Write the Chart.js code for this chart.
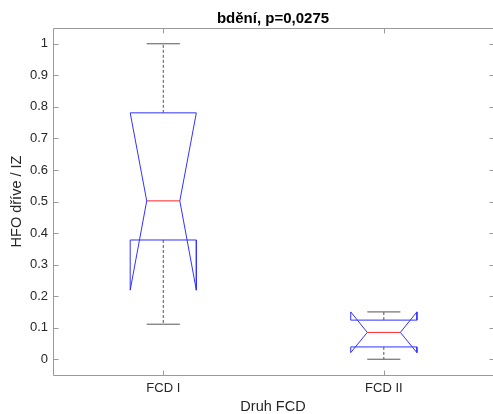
<!DOCTYPE html>
<html>
<head>
<meta charset="utf-8">
<script src="https://cdn.jsdelivr.net/npm/chart.js@4/dist/chart.umd.min.js"></script>
<style>
  html, body { margin: 0; padding: 0; background: #fff; }
  #wrap { width: 493px; height: 414px; }
</style>
</head>
<body>
<div id="wrap"><canvas id="chart"></canvas></div>
<script>
const categories = ['FCD I', 'FCD II'];
const q1 = [0.378, 0.039];
const median = [0.502, 0.085];
const q3 = [0.781, 0.124];
const notchLo = [0.219, 0.021];
const notchHi = [0.781, 0.150];
const whiskerLo = [0.111, 0.0];
const whiskerHi = [1.0, 0.150];
const yTicks = [0, 0.1, 0.2, 0.3, 0.4, 0.5, 0.6, 0.7, 0.8, 0.9, 1];

const titleText = 'bdění, p=0,0275';
const axisColor = '#9a9a9a';
const textColor = '#262626';
const boxHalf = 0.15;
const notchHalf = 0.075;
const capHalf = 0.075;
const xFrameMax = 2.5; // axis frame edge (window is cut just before it)

function line(points, color, dash) {
  return {
    data: points,
    showLine: true,
    borderColor: color,
    borderWidth: 1,
    borderDash: dash || [],
    pointRadius: 0,
    fill: false,
    tension: 0
  };
}

const datasets = [];
categories.forEach(function (c, i) {
  const x = i + 1;
  const l = x - boxHalf, r = x + boxHalf;
  const nl = x - notchHalf, nr = x + notchHalf;
  // whiskers (dashed) first so box draws over them
  datasets.push(line([{ x: x, y: q3[i] }, { x: x, y: whiskerHi[i] }], '#555', [3, 2]));
  datasets.push(line([{ x: x, y: q1[i] }, { x: x, y: whiskerLo[i] }], '#555', [3, 2]));
  datasets.push(line([{ x: x - capHalf, y: whiskerHi[i] }, { x: x + capHalf, y: whiskerHi[i] }], '#555'));
  datasets.push(line([{ x: x - capHalf, y: whiskerLo[i] }, { x: x + capHalf, y: whiskerLo[i] }], '#555'));
  // notched box outline
  datasets.push(line([
    { x: l, y: q1[i] }, { x: r, y: q1[i] }, { x: r, y: notchLo[i] },
    { x: nr, y: median[i] }, { x: r, y: notchHi[i] }, { x: r, y: q3[i] },
    { x: l, y: q3[i] }, { x: l, y: notchHi[i] }, { x: nl, y: median[i] },
    { x: l, y: notchLo[i] }, { x: l, y: q1[i] }
  ], 'rgb(50,50,255)'));
  // median
  datasets.push(line([{ x: nl, y: median[i] }, { x: nr, y: median[i] }], 'rgb(255,40,40)'));
});

// MATLAB-like frame with inward ticks + title
const framePlugin = {
  id: 'frame',
  afterDraw: function (chart) {
    const ctx = chart.ctx;
    const a = chart.chartArea;
    const xs = chart.scales.x, ys = chart.scales.y;
    const L = Math.round(a.left) + 0.5;
    const R = Math.round(xs.getPixelForValue(xFrameMax)) + 0.5;
    const T = Math.round(a.top) + 0.5, B = Math.round(a.bottom) + 0.5;
    ctx.save();
    ctx.strokeStyle = axisColor;
    ctx.lineWidth = 1;
    ctx.beginPath();
    ctx.moveTo(L, T); ctx.lineTo(R, T); ctx.lineTo(R, B); ctx.lineTo(L, B); ctx.closePath();
    const tl = 5;
    yTicks.forEach(function (v) {
      const y = Math.round(ys.getPixelForValue(v)) + 0.5;
      ctx.moveTo(L, y); ctx.lineTo(L + tl, y);
      ctx.moveTo(R, y); ctx.lineTo(R - tl, y);
    });
    categories.forEach(function (c, i) {
      const x = Math.round(xs.getPixelForValue(i + 1)) + 0.5;
      ctx.moveTo(x, B); ctx.lineTo(x, B - tl);
      ctx.moveTo(x, T); ctx.lineTo(x, T + tl);
    });
    ctx.stroke();
    ctx.fillStyle = '#000';
    ctx.font = 'bold 15px "Liberation Sans", Arial, sans-serif';
    ctx.textAlign = 'center';
    ctx.textBaseline = 'alphabetic';
    ctx.fillText(titleText, (a.left + a.right) / 2, 23);
    ctx.restore();
  }
};

new Chart(document.getElementById('chart'), {
  type: 'scatter',
  data: { datasets: datasets },
  options: {
    responsive: true,
    maintainAspectRatio: false,
    animation: false,
    layout: { padding: { top: 28, right: 0, left: 0, bottom: 0 } },
    plugins: { legend: { display: false }, tooltip: { enabled: false } },
    scales: {
      x: {
        type: 'linear',
        min: 0.5,
        max: 2.495,
        grid: { display: false, drawTicks: false },
        border: { display: false },
        afterBuildTicks: function (scale) {
          scale.ticks = categories.map(function (c, i) { return { value: i + 1 }; });
        },
        afterFit: function (scale) { scale.height = 39; },
        ticks: {
          padding: 6,
          color: textColor,
          font: { family: '"Liberation Sans", Arial, sans-serif', size: 13 },
          callback: function (v) { return categories[v - 1]; }
        },
        title: {
          display: true,
          text: 'Druh FCD',
          color: textColor,
          padding: 0,
          font: { family: '"Liberation Sans", Arial, sans-serif', size: 14.5, lineHeight: 1 }
        }
      },
      y: {
        min: -0.05,
        max: 1.05,
        grid: { display: false, drawTicks: false },
        border: { display: false },
        afterBuildTicks: function (scale) {
          scale.ticks = yTicks.map(function (v) { return { value: v }; });
        },
        afterFit: function (scale) { scale.width = 53; },
        ticks: {
          padding: 5,
          color: textColor,
          font: { family: '"Liberation Sans", Arial, sans-serif', size: 13 },
          callback: function (v) { return String(v); }
        },
        title: {
          display: true,
          text: 'HFO dříve / IZ',
          color: textColor,
          padding: { top: 8, bottom: 0 },
          font: { family: '"Liberation Sans", Arial, sans-serif', size: 14.5 }
        }
      }
    }
  },
  plugins: [framePlugin]
});
</script>
</body>
</html>
